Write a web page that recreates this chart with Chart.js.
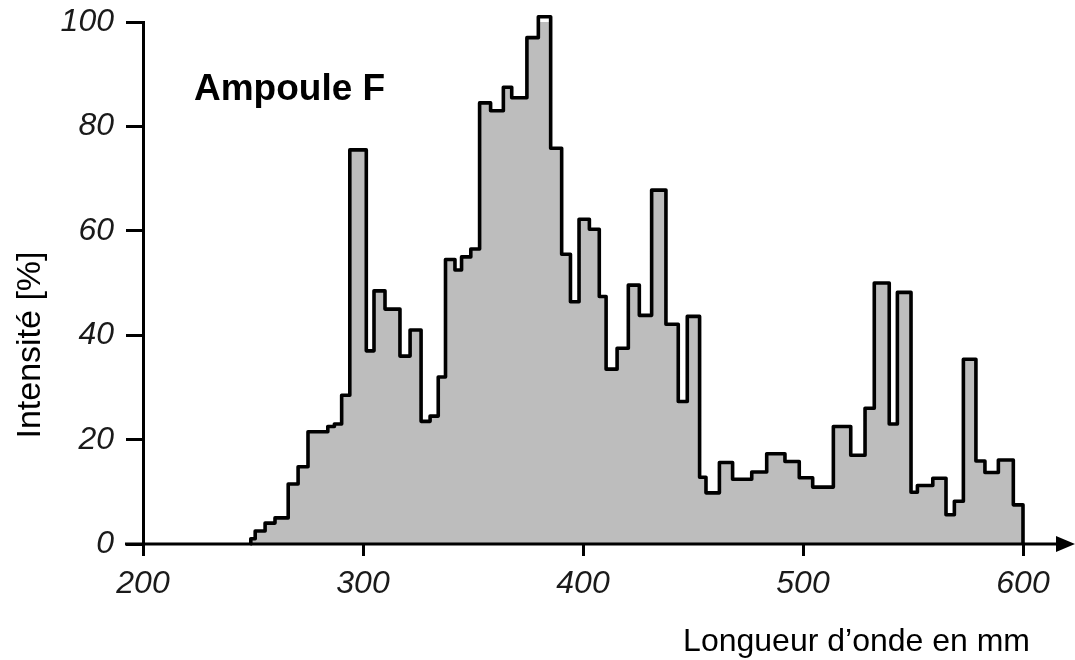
<!DOCTYPE html>
<html>
<head>
<meta charset="utf-8">
<script src="https://cdn.jsdelivr.net/npm/chart.js@4.4.1/dist/chart.umd.min.js"></script>
<style>
  html, body { margin: 0; padding: 0; background: #fff; }
  #wrap { width: 1075px; height: 660px; position: relative; }
</style>
</head>
<body>
<div id="wrap"><canvas id="spectre"></canvas></div>
<script>
// bin start wavelength (nm) -> intensity (%) held until the next start
const binStart = [
  248.9, 249, 251, 255.5, 260, 266, 270.5, 275, 284, 287, 290.3, 294,
  301.5, 305, 310, 316.8, 321.4, 326.4, 330.5, 334.2, 337.5, 341.8, 344.8, 349,
  353, 358, 363.8, 367.6, 374.5, 379.7, 385.3, 390.3, 394.3, 398.2, 402.9, 407.4,
  410.5, 415.5, 420.6, 425.6, 431.2, 437.7, 443.3, 447.4, 453, 455.9, 462, 468,
  476.7, 483.5, 491.8, 498.3, 504.4, 513.8, 521.7, 528.2, 532.4, 539.2, 542.9, 549.1,
  552, 559, 565, 568.8, 572.9, 578.6, 582.7, 588.8, 595.6, 600,
];
const intensite = [
  0, 1, 2.5, 4, 5, 11.5, 14.8, 21.5, 22.5, 23, 28.5, 75.5,
  37, 48.5, 45, 36, 41, 23.5, 24.5, 32, 54.5, 52.5, 55, 56.5,
  84.5, 83, 87.5, 85.5, 97, 101, 75.8, 55.5, 46.4, 62.2, 60.3, 47.4,
  33.5, 37.5, 49.6, 43.8, 67.8, 42.1, 27.3, 43.6, 12.8, 9.8, 15.6, 12.4,
  13.8, 17.3, 15.8, 12.7, 10.9, 22.5, 17, 26, 50, 23, 48.2, 9.9,
  11.2, 12.6, 5.6, 8.2, 35.4, 15.9, 13.7, 16.1, 7.5, 0,
];
const xTicks = [200, 300, 400, 500, 600];
const yTicks = [0, 20, 40, 60, 80, 100];

const titreAmpoule = 'Ampoule F';
const titreX = 'Longueur d’onde en mm';
const titreY = 'Intensité [%]';

const points = binStart.map((x, i) => ({ x, y: intensite[i] }));
const police = '"Liberation Sans", Arial, sans-serif';

// x axis with arrow + free texts
const decor = {
  id: 'decor',
  afterDraw(chart) {
    const { ctx, chartArea } = chart;
    const yBase = chart.scales.y.getPixelForValue(0);
    ctx.save();
    ctx.strokeStyle = '#000';
    ctx.fillStyle = '#000';
    ctx.lineWidth = 3;
    ctx.beginPath();
    ctx.moveTo(chartArea.left - 18, yBase);
    ctx.lineTo(1062, yBase);
    ctx.stroke();
    ctx.beginPath();
    ctx.moveTo(1075, yBase);
    ctx.lineTo(1056, yBase - 8);
    ctx.lineTo(1056, yBase + 8);
    ctx.closePath();
    ctx.fill();

    ctx.font = 'bold 37px ' + police;
    ctx.textAlign = 'left';
    ctx.textBaseline = 'alphabetic';
    ctx.fillText(titreAmpoule, 194, 100);

    ctx.font = '32px ' + police;
    ctx.textAlign = 'right';
    ctx.fillText(titreX, 1030, 651);

    ctx.translate(40, 345);
    ctx.rotate(-Math.PI / 2);
    ctx.textAlign = 'center';
    ctx.font = '34px ' + police;
    ctx.fillText(titreY, 0, 0);
    ctx.restore();
  },
};

new Chart('spectre', {
  type: 'line',
  data: {
    datasets: [{
      data: points,
      stepped: 'before',
      fill: 'origin',
      clip: false,
      backgroundColor: '#bdbdbd',
      borderColor: '#000',
      borderWidth: 3.6,
      borderJoinStyle: 'round',
      pointRadius: 0,
      tension: 0,
    }],
  },
  options: {
    responsive: true,
    maintainAspectRatio: false,
    animation: false,
    layout: { padding: { left: 0, right: 52, top: 22, bottom: 0 } },
    plugins: {
      legend: { display: false },
      tooltip: { enabled: false },
    },
    scales: {
      x: {
        type: 'linear',
        min: 200,
        max: 600,
        afterFit: s => { s.height = 116; s.paddingLeft = 0; s.paddingRight = 0; },
        afterBuildTicks: s => { s.ticks = xTicks.map(v => ({ value: v })); },
        border: { display: false },
        grid: { drawOnChartArea: false, color: '#000', lineWidth: 3, tickLength: 12 },
        ticks: {
          color: '#1a1a1a',
          padding: 9,
          font: { family: police, size: 32, style: 'italic' },
        },
      },
      y: {
        min: 0,
        max: 100,
        afterFit: s => { s.width = 143; s.paddingTop = 0; s.paddingBottom = 0; },
        afterBuildTicks: s => { s.ticks = yTicks.map(v => ({ value: v })); },
        border: { display: true, color: '#000', width: 3 },
        grid: { drawOnChartArea: false, color: '#000', lineWidth: 3, tickLength: 17 },
        ticks: {
          color: '#1a1a1a',
          padding: 12,
          font: { family: police, size: 32, style: 'italic' },
        },
      },
    },
  },
  plugins: [decor],
});
</script>
</body>
</html>
